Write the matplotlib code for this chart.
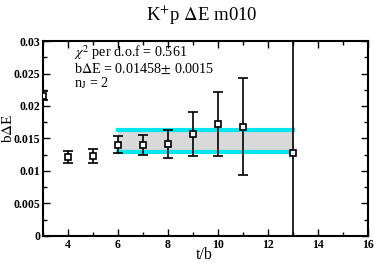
import matplotlib.pyplot as plt
from matplotlib.ticker import MultipleLocator

plt.rcParams['font.family'] = ['Liberation Serif', 'DejaVu Serif']
plt.rcParams['mathtext.fontset'] = 'stix'

t = [3, 4, 5, 6, 7, 8, 9, 10, 11, 13]
dE = [0.0216, 0.0122, 0.01235, 0.01405, 0.0140, 0.01415, 0.01565, 0.01723, 0.01682, 0.01277]
err_lo = [0.0007, 0.0010, 0.0012, 0.0013, 0.0016, 0.0022, 0.0034, 0.0049, 0.0074, 0.0400]
err_hi = [0.0007, 0.0009, 0.0011, 0.0013, 0.0016, 0.0022, 0.0034, 0.0049, 0.0075, 0.0400]

fit_t = [6, 13]
fit_val = 0.01458
fit_err = 0.00172

fig = plt.figure(figsize=(3.74, 2.63), dpi=100)
ax = fig.add_axes([0.115, 0.103, 0.869, 0.741])

lo = fit_val - fit_err
hi = fit_val + fit_err
ax.fill_between(fit_t, [lo, lo], [hi, hi], color='#d9d9d9', lw=0, zorder=1)
ax.plot(fit_t, [lo, lo], color='#00e5ee', lw=3, zorder=2)
ax.plot(fit_t, [hi, hi], color='#00e5ee', lw=3, zorder=2)

ax.errorbar(t[:-1], dE[:-1], yerr=[err_lo[:-1], err_hi[:-1]], fmt='s', ms=4.5,
            mfc='white', mec='black', mew=1.2, ecolor='black', elinewidth=1.2,
            capsize=3.5, capthick=1.2, zorder=3)
ax.errorbar(t[-1:], dE[-1:], yerr=[err_lo[-1:], err_hi[-1:]], fmt='s', ms=4.5,
            mfc='white', mec='black', mew=1.2, ecolor='black', elinewidth=1.2,
            capsize=0, zorder=3)

ax.set_xlim(3, 16)
ax.set_ylim(0, 0.03)
ax.xaxis.set_minor_locator(MultipleLocator(1))
ax.yaxis.set_minor_locator(MultipleLocator(0.0025))
ax.set_xticks([4, 6, 8, 10, 12, 14, 16])
ax.set_yticks([0, 0.005, 0.01, 0.015, 0.02, 0.025, 0.03])
ax.set_yticklabels(['0', '0.005', '0.01', '0.015', '0.02', '0.025', '0.03'])
ax.tick_params(which='both', direction='in', top=True, right=True, width=1)
ax.tick_params(which='major', length=5, labelsize=8.5, pad=2)
ax.tick_params(which='minor', length=3)
for lab in ax.get_xticklabels() + ax.get_yticklabels():
    lab.set_fontweight('bold')
for s in ax.spines.values():
    s.set_linewidth(1.5)

ax.text(4.24, 0.02815, r'$\chi^2$ per d.o.f = 0.561', fontsize=10.2, va='center')
ax.text(4.24, 0.0257, r'b$\Delta$E = 0.01458$\pm$ 0.0015', fontsize=10.2, va='center')
ax.text(4.24, 0.02354, r'n$_{\rm J}$ = 2', fontsize=10.2, va='center')

fig.text(0.54, 0.943, r'K$^{+}$p $\Delta$E m010', fontsize=13.5, ha='center', va='center')
fig.text(0.022, 0.513, r'b$\Delta$E', fontsize=11, rotation=90, ha='center', va='center')
fig.text(0.545, 0.015, 't/b', fontsize=11.5, ha='center', va='baseline')

fig.savefig('out.png', dpi=100)
